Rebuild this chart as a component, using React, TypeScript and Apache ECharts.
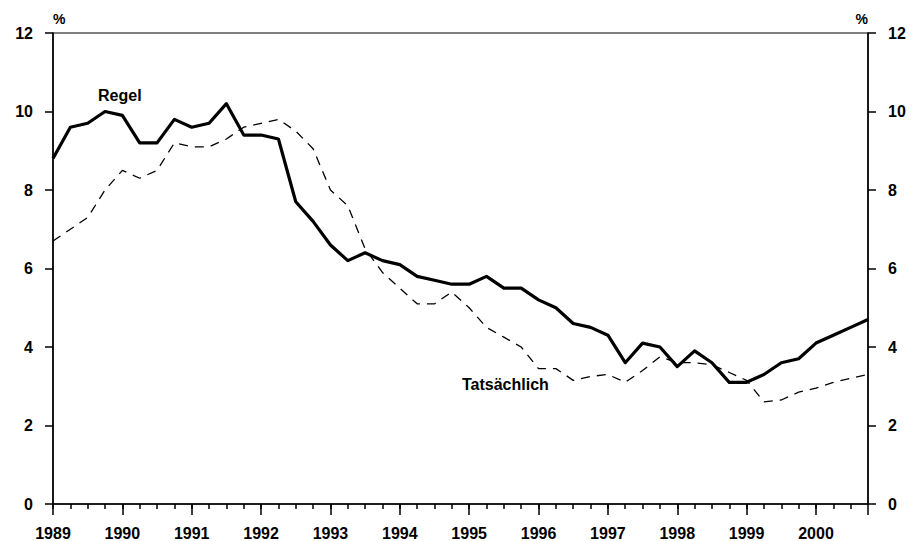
import React, { useEffect, useRef } from "react";
import * as echarts from "echarts";

// Quarterly observations, 1989 Q1 .. 2000 Q4 (x = year + quarter offset)
const quarters: number[] = [];
for (let y = 1989; y <= 2000; y++) {
  for (let q = 0; q < 4; q++) quarters.push(y + q * 0.25);
}

const regel = [
  8.8, 9.6, 9.7, 10.0,
  9.9, 9.2, 9.2, 9.8,
  9.6, 9.7, 10.2, 9.4,
  9.4, 9.3, 7.7, 7.2,
  6.6, 6.2, 6.4, 6.2,
  6.1, 5.8, 5.7, 5.6,
  5.6, 5.8, 5.5, 5.5,
  5.2, 5.0, 4.6, 4.5,
  4.3, 3.6, 4.1, 4.0,
  3.5, 3.9, 3.6, 3.1,
  3.1, 3.3, 3.6, 3.7,
  4.1, 4.3, 4.5, 4.7,
];

const tatsaechlich = [
  6.7, 7.0, 7.3, 8.0,
  8.5, 8.3, 8.5, 9.2,
  9.1, 9.1, 9.3, 9.6,
  9.7, 9.8, 9.5, 9.05,
  8.0, 7.6, 6.5, 5.9,
  5.5, 5.1, 5.1, 5.4,
  5.0, 4.5, 4.25, 4.0,
  3.45, 3.45, 3.15, 3.25,
  3.3, 3.1, 3.4, 3.75,
  3.6, 3.6, 3.55, 3.35,
  3.15, 2.6, 2.65, 2.85,
  2.95, 3.1, 3.2, 3.3,
];

const seriesNames = ["Regel", "Tatsächlich"];
const yTicks = [0, 2, 4, 6, 8, 10, 12];

const FONT = "'Liberation Sans', Arial, Helvetica, sans-serif";

export default function App() {
  const ref = useRef<HTMLDivElement>(null);
  useEffect(() => {
    if (!ref.current) return;
    const chart = echarts.init(ref.current, undefined, { renderer: "svg" });
    const labelStyle = {
      color: "#000",
      fontFamily: FONT,
      fontSize: 16,
      fontWeight: "bold" as const,
    };
    const yAxisBase = {
      type: "value" as const,
      min: yTicks[0],
      max: yTicks[yTicks.length - 1],
      interval: 2,
      splitLine: { show: false },
      axisLine: { show: true, lineStyle: { color: "#000", width: 1.5 } },
      axisTick: { show: true, length: 8, inside: false, lineStyle: { color: "#000", width: 1.5 } },
      axisLabel: { ...labelStyle, margin: 20 },
      name: "%",
      nameLocation: "end" as const,
      nameGap: 7,
    };
    chart.setOption({
      animation: false,
      backgroundColor: "#fff",
      grid: {
        left: 53,
        right: 45,
        top: 33,
        bottom: 37,
        show: true,
        borderColor: "#000",
        borderWidth: 1.2,
        backgroundColor: "transparent",
      },
      xAxis: [
        {
          type: "value",
          min: 1989,
          max: 2000.75,
          interval: 0.25,
          position: "bottom",
          splitLine: { show: false },
          axisLine: { show: true, onZero: false, lineStyle: { color: "#000", width: 1.5 } },
          axisTick: { show: true, length: 5, lineStyle: { color: "#000", width: 1.5 } },
          axisLabel: {
            ...labelStyle,
            margin: 21,
            showMaxLabel: false,
            formatter: (v: number) => (Math.abs(v - Math.round(v)) < 1e-6 ? String(Math.round(v)) : ""),
          },
        },
        {
          type: "value",
          min: 1989,
          max: 2000.75,
          interval: 1,
          position: "bottom",
          offset: 0,
          splitLine: { show: false },
          axisLine: { show: false },
          axisTick: { show: true, length: 11, lineStyle: { color: "#000", width: 1.5 } },
          axisLabel: { show: false },
        },
      ],
      yAxis: [
        {
          ...yAxisBase,
          position: "left",
          nameTextStyle: { ...labelStyle, fontSize: 14, align: "left" },
        },
        {
          ...yAxisBase,
          position: "right",
          nameTextStyle: { ...labelStyle, fontSize: 14, align: "right" },
        },
      ],
      series: [
        {
          name: seriesNames[0],
          type: "line",
          xAxisIndex: 0,
          yAxisIndex: 0,
          data: quarters.map((q, i) => [q, regel[i]]),
          symbol: "none",
          lineStyle: { color: "#000", width: 3.2, join: "round" },
          z: 3,
        },
        {
          name: seriesNames[1],
          type: "line",
          xAxisIndex: 0,
          yAxisIndex: 0,
          data: quarters.map((q, i) => [q, tatsaechlich[i]]),
          symbol: "none",
          lineStyle: { color: "#000", width: 1.3, type: [9, 7] },
          z: 2,
        },
      ],
      graphic: [
        {
          type: "text",
          left: 98,
          top: 87,
          style: { text: seriesNames[0], fill: "#000", font: `bold 16px ${FONT}` },
        },
        {
          type: "text",
          left: 462,
          top: 376,
          style: { text: seriesNames[1], fill: "#000", font: `bold 16px ${FONT}` },
        },
      ],
    });
    return () => chart.dispose();
  }, []);
  return (
    <div
      ref={ref}
      style={{ position: "fixed", left: 0, top: 0, width: 913, height: 541, background: "#fff" }}
    />
  );
}
